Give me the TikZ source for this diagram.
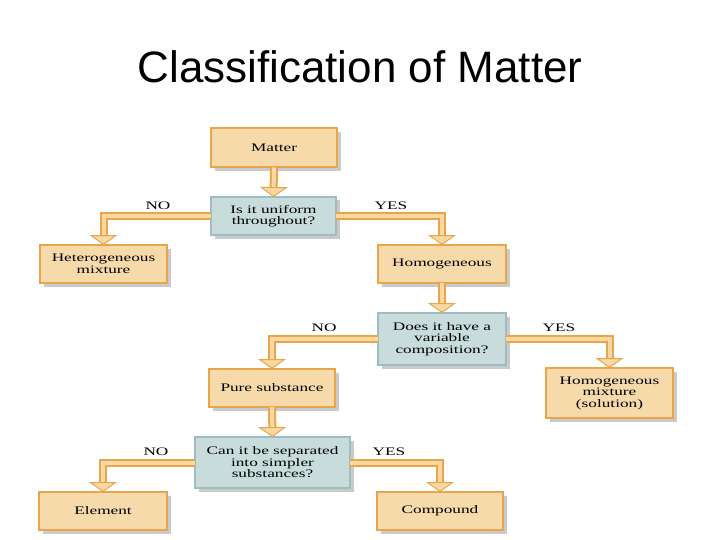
\documentclass[tikz,border=0pt]{standalone}
\usepackage{fontspec}
\setmainfont{Liberation Serif}
\newfontfamily\titlefont{Liberation Sans}
\newfontfamily\boxfont[FakeStretch=1.5]{Liberation Serif}
\usetikzlibrary{arrows.meta,shadows}
\definecolor{tanfill}{HTML}{F6DAAA}
\definecolor{tanborder}{HTML}{E8A64C}
\definecolor{qfill}{HTML}{C9DCDC}
\definecolor{qborder}{HTML}{9EBDC2}
\definecolor{shaftlight}{HTML}{F9D8A2}
\tikzset{
  box/.style={draw=tanborder, fill=tanfill, line width=2pt, inner sep=0pt, outer sep=0pt,
    align=center, font=\boxfont\fontsize{11.5}{11.5}\selectfont,
    drop shadow={shadow xshift=3.5pt, shadow yshift=-3.5pt, fill=black!35, opacity=0.6}},
  qbox/.style={box, draw=qborder, fill=qfill},
  lbl/.style={font=\boxfont\fontsize{11.5}{11.5}\selectfont, inner sep=0pt},
  conn/.style={draw=tanborder, line width=8pt, line join=miter,
    -{Triangle[width=28pt,length=10pt,line width=1pt,fill=shaftlight]}},
  connin/.style={draw=shaftlight, line width=4pt, line join=miter, shorten >=10pt}
}
\begin{document}
\begin{tikzpicture}[x=1pt,y=-1pt]
\useasboundingbox (0,0) rectangle (720,540);
\node[font=\titlefont\fontsize{44}{44}\selectfont, anchor=base, inner sep=0pt] (title) at (360,83) {Classification of Matter};

\node[box, minimum width=126pt, minimum height=39pt] (matter) at (274,148) {Matter};
\node[qbox, minimum width=125pt, minimum height=38pt] (q1) at (273.5,216) {Is it uniform\\throughout?};
\node[box, minimum width=127pt, minimum height=38pt] (het) at (103.5,264) {Heterogeneous\\mixture};
\node[box, minimum width=128pt, minimum height=38pt] (hom) at (442,264) {Homogeneous};
\node[qbox, minimum width=128pt, minimum height=52pt] (q2) at (442,339) {Does it have a\\variable\\composition?};
\node[box, minimum width=127pt, minimum height=50pt] (sol) at (609.5,393) {Homogeneous\\mixture\\(solution)};
\node[box, minimum width=126pt, minimum height=38pt] (pure) at (272,388) {Pure substance};
\node[qbox, minimum width=155pt, minimum height=51pt] (q3) at (272.5,462.5) {Can it be separated\\into simpler\\substances?};
\node[box, minimum width=128pt, minimum height=38pt] (elem) at (103,511) {Element};
\node[box, minimum width=126pt, minimum height=38pt] (comp) at (440,511) {Compound};

\foreach \a/\b in {matter/q1, hom/q2, pure/q3}{
  \draw[conn] (\a.south) -- (\b.north);
  \draw[connin] (\a.south) -- (\b.north);
}
\foreach \a/\b in {q1/het, q2/pure, q3/elem}{
  \draw[conn] (\a.west) -| (\b.north);
  \draw[connin] (\a.west) -| (\b.north);
}
\foreach \a/\b in {q1/hom, q2/sol, q3/comp}{
  \draw[conn] (\a.east) -| (\b.north);
  \draw[connin] (\a.east) -| (\b.north);
}

\node[lbl] (no1) at (158,206) {NO};
\node[lbl] (yes1) at (391,206) {YES};
\node[lbl] (no2) at (324,328) {NO};
\node[lbl] (yes2) at (559,328) {YES};
\node[lbl] (no3) at (156,452) {NO};
\node[lbl] (yes3) at (389,452) {YES};
\end{tikzpicture}
\end{document}
